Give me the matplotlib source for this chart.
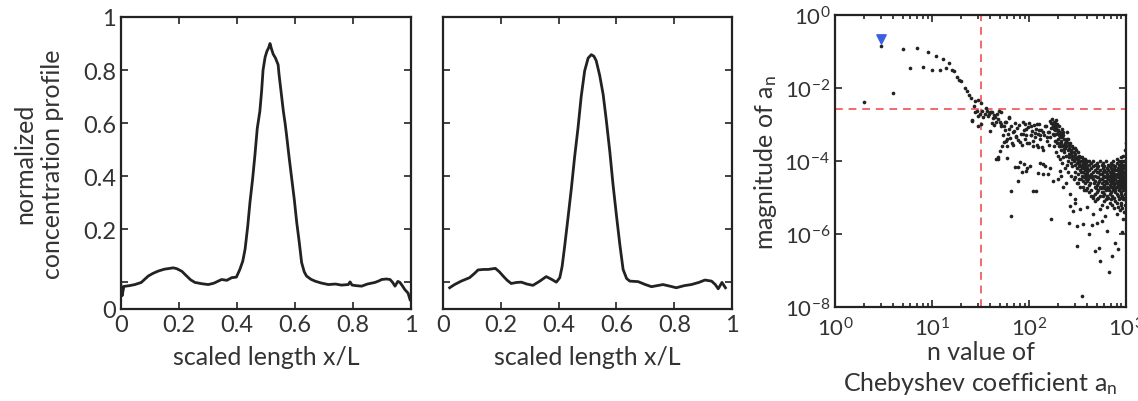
import numpy as np
import matplotlib
matplotlib.use("Agg")
import matplotlib.pyplot as plt

plt.rcParams['font.family'] = ['Lato', 'DejaVu Sans']
plt.rcParams['mathtext.fontset'] = 'custom'
plt.rcParams['mathtext.rm'] = 'Lato'
plt.rcParams['mathtext.it'] = 'Lato:italic'
plt.rcParams['mathtext.bf'] = 'Lato:bold'

x_meas = [0.0, 0.004, 0.01, 0.03, 0.048, 0.07, 0.094, 0.11, 0.129, 0.15, 0.163, 0.18, 0.192,
          0.21, 0.221, 0.24, 0.255, 0.28, 0.301, 0.32, 0.347, 0.365, 0.382, 0.398, 0.41,
          0.42, 0.428, 0.437, 0.445, 0.454, 0.462, 0.47, 0.479, 0.485, 0.49, 0.497, 0.503,
          0.51, 0.514, 0.519, 0.525, 0.533, 0.542, 0.545, 0.552, 0.56, 0.566, 0.571, 0.58,
          0.589, 0.598, 0.606, 0.615, 0.623, 0.632, 0.64, 0.655, 0.669, 0.69, 0.715, 0.74,
          0.76, 0.784, 0.79, 0.797, 0.81, 0.83, 0.85, 0.876, 0.89, 0.899, 0.915, 0.928,
          0.937, 0.945, 0.955, 0.962, 0.97, 0.979, 0.99, 0.997]
y_meas = [-0.01, -0.05, -0.015, -0.012, -0.008, 0.0, 0.024, 0.034, 0.043, 0.05, 0.052, 0.055, 0.052,
          0.042, 0.03, 0.01, 0.0, -0.005, -0.008, -0.003, 0.011, 0.008, 0.018, 0.02, 0.049,
          0.08, 0.125, 0.21, 0.303, 0.39, 0.48, 0.58, 0.645, 0.72, 0.80, 0.848, 0.87,
          0.886, 0.90, 0.88, 0.86, 0.845, 0.82, 0.785, 0.72, 0.645, 0.60, 0.556, 0.47,
          0.39, 0.31, 0.227, 0.15, 0.075, 0.04, 0.024, 0.012, 0.005, -0.002, -0.008, -0.006,
          -0.01, -0.008, 0.002, -0.01, -0.012, -0.014, -0.006, 0.0, 0.006, 0.011, 0.013, 0.011,
          0.0, -0.014, 0.004, 0.0, -0.012, -0.027, -0.04, -0.065]

# ---- panel 2: reconstructed profile ----
x_rec = [0.023, 0.04, 0.063, 0.092, 0.11, 0.121, 0.14, 0.156, 0.181, 0.195, 0.208, 0.222,
         0.236, 0.255, 0.271, 0.29, 0.311, 0.335, 0.357, 0.375, 0.392, 0.404, 0.412, 0.421,
         0.432, 0.444, 0.455, 0.467, 0.478, 0.49, 0.502, 0.513, 0.522, 0.53, 0.542, 0.554,
         0.565, 0.577, 0.588, 0.6, 0.612, 0.623, 0.635, 0.646, 0.675, 0.7, 0.721, 0.761,
         0.785, 0.807, 0.835, 0.859, 0.885, 0.906, 0.929, 0.942, 0.952, 0.965, 0.977]
y_rec = [-0.02, -0.008, 0.005, 0.018, 0.035, 0.047, 0.049, 0.049, 0.053, 0.04, 0.024, 0.008,
         -0.004, 0.0, 0.001, -0.006, -0.011, 0.005, 0.022, 0.012, 0.001, 0.018, 0.06, 0.138,
         0.24, 0.354, 0.47, 0.582, 0.70, 0.797, 0.845, 0.858, 0.852, 0.835, 0.78, 0.708,
         0.61, 0.493, 0.37, 0.252, 0.14, 0.049, 0.015, 0.005, 0.003, -0.008, -0.016, -0.008,
         -0.014, -0.02, -0.012, -0.008, 0.0, 0.009, 0.005, -0.008, -0.024, 0.0, -0.02]

lin_xticks = [0, 0.2, 0.4, 0.6, 0.8, 1]
lin_xlabels = ['0', '0.2', '0.4', '0.6', '0.8', '1']
lin_yticks = [-0.1, 0.0, 0.2, 0.4, 0.6, 0.8, 1.0]
lin_ylabels = ['0', '', '0.2', '0.4', '0.6', '0.8', '1']

# ---- panel 3: Chebyshev coefficients (n, log10 |a_n|) ----
first_n = 3
first_exp = -0.66

early_n = [2, 3, 4, 5, 6, 7, 8, 9, 10, 11, 12, 13, 14, 15, 16, 17, 18, 19, 20, 22, 23, 24, 25, 28, 30, 32]
early_exp = [-2.39, -0.84, -2.14, -0.93, -1.45, -0.91, -1.42, -1.00, -1.51, -1.12, -1.51, -1.20, -1.46,
             -1.32, -1.51, -1.54, -1.71, -1.78, -1.82, -2.00, -2.07, -2.19, -2.27, -2.36, -2.32, -2.41]

mid_n = [26, 28, 30, 30, 33, 35, 37, 38, 41, 43, 46, 50, 40, 36, 34, 39, 44, 48, 52, 46, 62, 63,
         55, 58, 27, 29, 31, 42, 45, 49, 40, 32, 26, 42, 47, 52, 44, 57, 62]
mid_exp = [-2.90, -2.67, -2.76, -3.03, -2.62, -2.71, -2.62, -2.76, -2.65, -2.82, -2.94, -2.94, -3.19,
           -2.55, -2.80, -2.70, -2.75, -2.85, -2.98, -3.95, -2.81, -3.12, -3.05, -2.92, -2.48, -2.62,
           -2.72, -2.67, -2.80, -2.62, -2.67, -2.99, -2.89, -2.95, -2.72, -2.67, -3.0, -2.94, -2.80]

band_n = [91, 94, 105, 120, 128, 141, 150, 170, 175, 182, 196, 160, 155, 130, 115, 105, 86, 74, 70,
          60, 55, 53, 50, 48, 68, 80, 95, 110, 125, 140, 160, 190, 210, 230,
          72, 81, 94, 102, 123, 141, 158, 178, 210, 224, 78, 66, 110, 263, 295]
band_exp = [-2.99, -3.12, -3.05, -2.99, -3.15, -3.21, -3.05, -2.96, -3.02, -3.12, -3.0, -3.2, -3.35,
            -3.28, -3.22, -3.3, -3.25, -3.31, -3.18, -3.40, -3.49, -3.6, -3.72, -3.95, -3.55, -3.48,
            -3.5, -3.58, -3.62, -3.7, -3.55, -3.45, -3.58, -3.68,
            -4.17, -4.04, -4.27, -4.13, -4.33, -4.08, -4.36, -4.54, -4.27, -4.72, -4.54, -4.81,
            -4.81, -4.9, -5.04]

upper_n = [52, 54, 56, 58, 59, 61, 64, 65, 67, 69, 71, 73, 76, 78, 79, 82, 84, 86, 88, 90, 93,
           97, 99, 101, 104, 107, 109, 112, 116, 118, 121, 124, 127, 131, 134, 137, 143, 146, 152,
           156, 163, 166, 168, 172, 176, 179, 183, 187, 189, 192, 198, 203, 207, 213, 218, 226,
           245, 255, 48, 60, 77, 88, 95, 85, 130, 140, 165, 200, 215, 240, 118, 148]
upper_exp = [-3.05, -3.3, -3.15, -3.45, -3.6, -3.25, -3.38, -3.05, -3.5, -3.2, -2.95, -3.35, -3.1,
             -3.42, -3.0, -3.25, -3.55, -2.92, -3.15, -3.4, -3.28, -3.08, -3.5, -2.95, -3.3, -3.18,
             -3.45, -3.02, -3.35, -3.12, -3.55, -3.25, -2.98, -3.4, -3.15, -3.62, -3.3, -3.05,
             -3.45, -3.2, -2.9, -3.35, -3.1, -2.85, -3.25, -3.05, -2.92, -3.15, -3.0, -2.88, -3.2,
             -3.05, -3.35, -3.25, -3.12, -3.3, -3.2, -3.4, -3.9, -3.92, -4.17, -4.08, -4.2, -4.3,
             -4.05, -4.35, -4.2, -4.5, -4.4, -4.6, -4.81, -4.15]

cloud_cols = [180, 185, 190, 195, 200, 205, 210, 215, 220, 230, 235, 240, 250, 260, 270, 280,
              290, 300, 310, 320, 330, 340, 350, 360, 370, 380, 390, 400, 420, 440, 460, 480,
              500, 520, 540, 560, 580, 600, 620, 640, 660, 680, 700, 720, 740, 760, 780, 800,
              820, 840, 860, 880, 900, 920, 940, 960, 980, 995]
cloud_exps = [
    [-3.05, -3.3, -3.6], [-2.95, -3.45], [-3.1, -3.75, -3.25], [-2.98, -3.5],
    [-3.15, -3.4, -3.85], [-3.3, -3.6], [-3.2, -3.95, -3.5], [-3.45, -3.7],
    [-3.35, -3.6, -4.05], [-3.4, -3.75, -3.55], [-3.5, -4.2], [-3.6, -3.85, -3.45],
    [-3.5, -3.7, -4.0, -4.3], [-3.65, -3.9, -3.55], [-3.7, -4.05, -4.4, -3.8], [-3.6, -3.95, -4.15],
    [-3.75, -4.0, -4.5, -3.85], [-3.8, -4.1, -3.65, -4.3], [-3.9, -4.2, -4.6], [-3.75, -4.0, -4.35, -3.95],
    [-3.85, -4.15, -4.5, -4.05], [-4.0, -4.25, -3.9, -4.7], [-3.9, -4.1, -4.4, -4.2], [-4.05, -4.3, -3.95, -4.55],
    [-4.0, -4.2, -4.45, -4.8], [-4.1, -4.35, -3.95, -4.6], [-4.05, -4.25, -4.5, -4.15],
    [-4.0, -4.3, -4.55, -4.75, -4.2], [-4.1, -4.4, -4.0, -4.65, -4.25], [-4.2, -4.45, -4.05, -4.8, -4.35],
    [-4.15, -4.5, -4.3, -4.95, -4.0], [-4.25, -4.55, -4.1, -4.7, -4.4, -5.1],
    [-4.2, -4.45, -4.05, -4.65, -4.85, -4.3], [-4.3, -4.6, -4.15, -4.8, -4.45, -5.0],
    [-4.25, -4.5, -4.0, -4.7, -4.95, -4.35], [-4.35, -4.6, -4.1, -4.85, -4.5, -5.2],
    [-4.2, -4.45, -4.7, -4.95, -4.3, -4.05], [-4.4, -4.65, -4.15, -4.9, -4.55, -5.1, -4.25],
    [-4.3, -4.55, -4.0, -4.8, -4.45, -5.05], [-4.45, -4.7, -4.2, -4.95, -4.6, -4.35, -5.25],
    [-4.25, -4.5, -4.75, -4.1, -5.0, -4.4], [-4.4, -4.65, -4.15, -4.9, -4.55, -5.15, -4.3],
    [-4.35, -4.6, -4.05, -4.85, -4.5, -5.05, -4.2], [-4.45, -4.7, -4.25, -4.95, -4.6, -5.2, -4.35],
    [-4.3, -4.55, -4.1, -4.8, -4.45, -5.0, -4.0], [-4.5, -4.75, -4.2, -5.0, -4.65, -4.35, -5.3],
    [-4.4, -4.6, -4.15, -4.85, -4.5, -5.1, -4.25], [-4.35, -4.7, -4.05, -4.9, -4.55, -5.15, -4.25, -3.95],
    [-4.45, -4.65, -4.2, -4.95, -4.6, -5.25, -4.35], [-4.3, -4.55, -4.1, -4.8, -4.45, -5.05, -4.0],
    [-4.5, -4.75, -4.25, -5.0, -4.65, -4.35, -5.35], [-4.4, -4.6, -4.15, -4.9, -4.55, -5.15, -4.3, -3.9],
    [-4.35, -4.7, -4.05, -4.85, -4.5, -5.2, -4.2], [-4.45, -4.65, -4.25, -4.95, -4.6, -5.3, -4.0],
    [-4.3, -4.55, -4.1, -4.8, -4.45, -5.05, -3.85], [-4.5, -4.75, -4.2, -5.0, -4.65, -4.35, -5.4, -4.0],
    [-4.4, -4.6, -4.15, -4.9, -4.55, -5.2, -4.3, -3.7], [-4.35, -4.7, -4.05, -4.85, -4.5, -5.1, -4.25, -3.5, -5.35],
]

# extra fill for the crowded band between n = 200 and 1000
fill_n = [203, 212, 222, 233, 244, 256, 266, 276, 287, 297, 305, 315, 326, 336, 345, 355, 366,
          376, 386, 396, 410, 430, 450, 470, 490, 225, 248, 272, 296, 318, 342, 365, 388, 412,
          436, 458, 484, 508, 530, 552, 575, 598, 630, 665, 695, 730, 770, 810, 850, 890, 930, 970]
fill_exp = [-3.25, -3.5, -3.2, -3.65, -3.4, -3.8, -3.5, -3.85, -3.65, -3.95, -3.7, -4.05, -3.9,
            -4.15, -4.3, -4.0, -4.1, -4.25, -4.4, -4.35, -4.5, -4.6, -4.4, -4.6, -4.75, -3.9, -4.1,
            -3.75, -4.45, -4.6, -4.5, -4.7, -4.8, -4.85, -4.95, -5.0, -4.9, -5.05, -4.55, -4.75,
            -4.85, -4.75, -4.6, -4.8, -4.7, -4.75, -4.8, -4.7, -4.8, -4.65, -4.7, -4.6]

tail_n = [66, 169, 261, 310, 357, 443, 500, 420, 316, 480, 530, 537, 713, 771, 676, 830, 349,
          286, 263, 336, 393, 537, 608, 802, 904, 940, 631, 298, 461, 562]
tail_exp = [-5.52, -5.59, -5.71, -5.79, -5.73, -5.75, -5.70, -6.0, -6.34, -6.47, -6.39, -6.73,
            -6.61, -6.26, -7.03, -6.41, -7.71, -5.36, -5.22, -5.31, -5.27, -5.31, -5.50, -5.45,
            -5.95, -5.59, -5.91, -5.15, -5.45, -5.63]

cut_n = 32
cut_mag = 2.7e-3

log_xticks = [1, 10, 100, 1000]
log_yticks = [1e-8, 1e-6, 1e-4, 1e-2, 1]

ink = '#222222'
txt = '#333333'


def box_style(ax, size):
    for s in ax.spines.values():
        s.set_linewidth(1.6)
        s.set_color(ink)
    ax.tick_params(which='both', direction='in', top=True, right=True,
                   colors=ink, labelcolor=txt, labelsize=size, width=1.2)
    ax.tick_params(which='major', length=5)
    ax.tick_params(which='minor', length=3)


fig = plt.figure(figsize=(11.38, 4.02), dpi=100)
ax1 = fig.add_axes([0.1063, 0.2289, 0.2548, 0.7264])
ax2 = fig.add_axes([0.3893, 0.2289, 0.2540, 0.7264])
ax3 = fig.add_axes([0.7337, 0.2338, 0.2557, 0.7264])

for ax, xs, ys in [(ax1, x_meas, y_meas), (ax2, x_rec, y_rec)]:
    ax.plot(xs, ys, color=ink, lw=2.0)
    ax.set_xlim(0, 1)
    ax.set_ylim(-0.1, 1.0)
    ax.set_xticks(lin_xticks)
    ax.set_xticklabels(lin_xlabels)
    ax.set_yticks(lin_yticks)
    box_style(ax, 17)
    ax.set_xlabel('scaled length x/L', fontsize=18, color=txt, labelpad=7)

ax1.set_yticklabels(lin_ylabels)
ax2.set_yticklabels([])
ax1.set_ylabel('normalized\nconcentration profile', fontsize=18, color=txt,
               labelpad=14, linespacing=1.2)

# coefficient scatter
all_n = list(early_n) + list(mid_n) + list(band_n) + list(upper_n) + list(fill_n) + list(tail_n)
all_exp = list(early_exp) + list(mid_exp) + list(band_exp) + list(upper_exp) + list(fill_exp) + list(tail_exp)
for c, ex in zip(cloud_cols, cloud_exps):
    all_n += [c] * len(ex)
    all_exp += ex
all_n = np.array(all_n, dtype=float)
all_mag = 10.0 ** np.array(all_exp)

ax3.scatter(all_n, all_mag, s=7, color=ink, linewidths=0, zorder=3)
ax3.scatter([first_n], [10.0 ** first_exp], marker='v', s=45, color='#3a5fe0', zorder=4)
ax3.axvline(cut_n, color='#f06a6a', lw=1.4, ls=(0, (4, 3)), zorder=2)
ax3.axhline(cut_mag, color='#f06a6a', lw=1.4, ls=(0, (4, 3)), zorder=2)
ax3.set_xscale('log')
ax3.set_yscale('log')
ax3.set_xlim(1, 1000)
ax3.set_ylim(1e-8, 1)
ax3.set_xticks(log_xticks)
ax3.set_yticks(log_yticks)
box_style(ax3, 16)
ax3.tick_params(axis='x', pad=7)
ax3.set_xlabel('n value of\nChebyshev coefficient a$_\\mathrm{n}$', fontsize=18,
               color=txt, labelpad=0, linespacing=1.3)
ax3.set_ylabel('magnitude of a$_\\mathrm{n}$', fontsize=18, color=txt, labelpad=4)

fig.savefig('out.png', dpi=100, facecolor='white')
